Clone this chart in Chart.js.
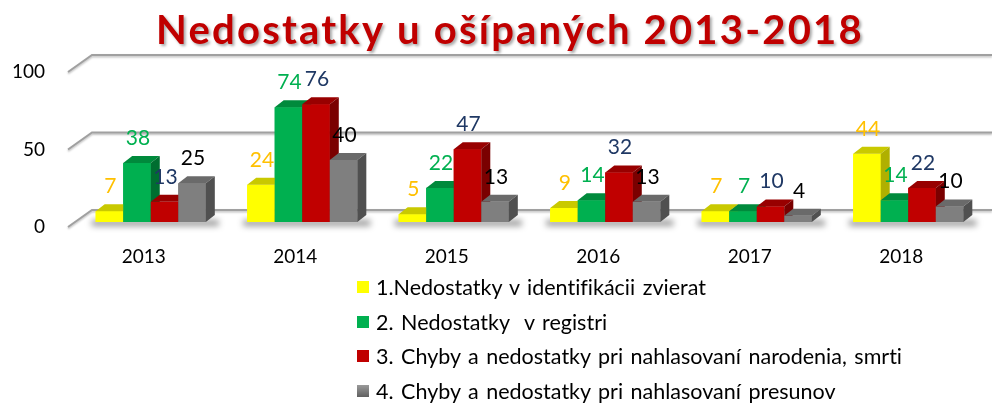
<!DOCTYPE html>
<html lang="sk">
<head>
    <meta charset="UTF-8">
    <title>Nedostatky u ošípaných 2013-2018</title>
    <script src="https://cdn.jsdelivr.net/npm/chart.js"></script>
    <style>
        html, body { margin: 0; padding: 0; background: #fff; }
        body { font-family: Lato, sans-serif; }
        #wrap { position: relative; width: 992px; height: 406px; }
        #legenda { position: absolute; left: 357px; top: 270px; margin: 0; padding: 0; list-style: none; font-size: 21.5px; word-spacing: 2px; color: #000; font-variant-ligatures: none; }
        #legenda li { display: flex; align-items: center; height: 34.6px; white-space: pre; }
        #legenda .box { width: 12px; height: 12px; margin-right: 7px; }
    </style>
</head>
<body>
<div id="wrap">
    <canvas id="graf" width="992" height="406"></canvas>
    <ul id="legenda"></ul>
</div>

<script>
    // --- Daten ---
    const roky = ['2013', '2014', '2015', '2016', '2017', '2018'];
    const nazvy = [
        '1.Nedostatky v identifikácii zvierat',
        '2. Nedostatky  v registri',
        '3. Chyby a nedostatky pri nahlasovaní narodenia, smrti',
        '4. Chyby a nedostatky pri nahlasovaní presunov'
    ];
    const identifikacia = [7, 24, 5, 9, 7, 44];
    const register = [38, 74, 22, 14, 7, 14];
    const narodenie = [13, 76, 47, 32, 10, 22];
    const presuny = [25, 40, 13, 13, 4, 10];
    const osY = [0, 50, 100];

    // Farben: Vorderseite, Oberseite, Seite, Beschriftung
    const predna = ['#FFFF00', '#00B050', '#C00000', '#7F7F7F'];
    const horna = ['#C9C900', '#008A3C', '#980000', '#6A6A6A'];
    const bocna = ['#B0B000', '#006E30', '#7A0000', '#505050'];
    const popis = ['#FFC000', '#00B050', '#1F3864', '#000000'];

    // 3D Versatz
    const hlbka = { dx: 9, dy: -7 };
    const stena = { px: -7, py: 5, dx: 24, dy: -17 };

    // Rückwand + Boden-Schatten
    const stenaPlugin = {
        id: 'stena',
        beforeDatasetsDraw(chart) {
            const { ctx, chartArea, scales: { y } } = chart;
            ctx.save();
            osY.forEach(v => {
                const fx = chartArea.left + stena.px;
                const fy = y.getPixelForValue(v) + stena.py;
                const bx = fx + stena.dx, by = fy + stena.dy;
                ctx.strokeStyle = '#A0A0A0';
                ctx.lineWidth = 2;
                ctx.shadowColor = 'rgba(0,0,0,0.25)';
                ctx.shadowBlur = 2;
                ctx.shadowOffsetY = 1.5;
                ctx.beginPath();
                ctx.moveTo(fx, fy);
                ctx.lineTo(bx, by);
                ctx.lineTo(chart.width, by);
                ctx.stroke();
            });
            ctx.restore();

            // Schatten unter den Gruppen
            ctx.save();
            ctx.filter = 'blur(3px)';
            ctx.fillStyle = 'rgba(0,0,0,0.4)';
            const m0 = chart.getDatasetMeta(0), m3 = chart.getDatasetMeta(chart.data.datasets.length - 1);
            roky.forEach((r, i) => {
                const a = m0.data[i], b = m3.data[i];
                const l = a.x - a.width / 2 - 4;
                const rr = b.x + b.width / 2 + hlbka.dx + 4;
                ctx.fillRect(l, a.base - 2, rr - l, 6);
            });
            ctx.restore();
        },
        afterDatasetsDraw(chart) {
            const { ctx } = chart;
            ctx.save();
            // Balken in 3D neu zeichnen (links nach rechts)
            roky.forEach((r, i) => {
                chart.data.datasets.forEach((ds, d) => {
                    const bar = chart.getDatasetMeta(d).data[i];
                    const { x, y: top, base, width } = bar.getProps(['x', 'y', 'base', 'width'], true);
                    const l = x - width / 2, rr = x + width / 2;
                    ctx.fillStyle = predna[d];
                    ctx.fillRect(l, top, width, base - top);
                    ctx.fillStyle = horna[d];
                    ctx.beginPath();
                    ctx.moveTo(l, top);
                    ctx.lineTo(rr, top);
                    ctx.lineTo(rr + hlbka.dx, top + hlbka.dy);
                    ctx.lineTo(l + hlbka.dx, top + hlbka.dy);
                    ctx.closePath();
                    ctx.fill();
                    ctx.fillStyle = bocna[d];
                    ctx.beginPath();
                    ctx.moveTo(rr, top);
                    ctx.lineTo(rr + hlbka.dx, top + hlbka.dy);
                    ctx.lineTo(rr + hlbka.dx, base + hlbka.dy);
                    ctx.lineTo(rr, base);
                    ctx.closePath();
                    ctx.fill();
                });
            });
            // Werte
            ctx.font = '21px Lato';
            ctx.textAlign = 'center';
            ctx.textBaseline = 'middle';
            chart.data.datasets.forEach((ds, d) => {
                chart.getDatasetMeta(d).data.forEach((bar, i) => {
                    ctx.fillStyle = popis[d];
                    ctx.fillText(String(ds.data[i]), bar.x + 1, bar.y - 25);
                });
            });
            ctx.restore();
        },
        afterDraw(chart) {
            const { ctx } = chart;
            ctx.save();
            ctx.font = 'bold 40px Lato';
            ctx.letterSpacing = '2.2px';
            ctx.textAlign = 'center';
            ctx.textBaseline = 'alphabetic';
            ctx.fillStyle = '#C00000';
            ctx.shadowColor = 'rgba(0,0,0,0.35)';
            ctx.shadowBlur = 3;
            ctx.shadowOffsetX = 2;
            ctx.shadowOffsetY = 2;
            ctx.fillText('Nedostatky u ošípaných 2013-2018', 510, 44);
            ctx.restore();
        }
    };

    const serie = [identifikacia, register, narodenie, presuny];

    const ctx = document.getElementById('graf').getContext('2d');
    const graf = new Chart(ctx, {
        type: 'bar',
        data: {
            labels: roky,
            datasets: serie.map((s, d) => ({
                label: nazvy[d],
                data: s,
                backgroundColor: predna[d],
                borderWidth: 0
            }))
        },
        options: {
            responsive: false,
            animation: false,
            devicePixelRatio: 1,
            categoryPercentage: 0.727,
            barPercentage: 1.0,
            layout: { padding: { top: 67, right: 8, bottom: 134, left: 0 } },
            scales: {
                x: {
                    grid: { display: false, drawTicks: false },
                    border: { display: false },
                    ticks: {
                        color: '#000',
                        font: { family: 'Lato', size: 19 },
                        padding: 23,
                        labelOffset: -7
                    },
                    afterFit(scale) { scale.height = 50; }
                },
                y: {
                    min: 0,
                    max: 100,
                    grid: { display: false, drawTicks: false },
                    border: { display: false },
                    ticks: {
                        stepSize: 50,
                        color: '#000',
                        font: { family: 'Lato', size: 19 },
                        padding: 30,
                        labelOffset: 5
                    },
                    afterFit(scale) { scale.width = 75; }
                }
            },
            plugins: {
                legend: { display: false },
                tooltip: { enabled: false }
            }
        },
        plugins: [stenaPlugin]
    });

    // Legende (vertikal, links ausgerichtet)
    const ul = document.getElementById('legenda');
    nazvy.forEach((n, d) => {
        const li = document.createElement('li');
        const box = document.createElement('span');
        box.className = 'box';
        box.style.background = d === 3 ? 'linear-gradient(#9a9a9a, #606060)' : predna[d];
        li.appendChild(box);
        li.appendChild(document.createTextNode(n));
        ul.appendChild(li);
    });
</script>
</body>
</html>
